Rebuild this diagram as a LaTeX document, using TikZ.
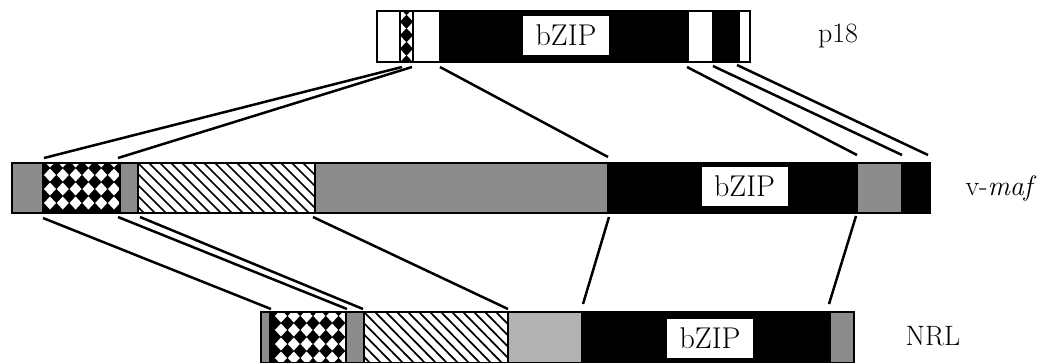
\documentclass[tikz,border=0pt]{standalone}
\usetikzlibrary{calc}
\definecolor{stip}{gray}{0.55}
\definecolor{stiplight}{gray}{0.70}
\tikzset{
  seg/.style={draw=black, line width=1.3pt},
  link/.style={line width=2.5pt, line cap=butt},
  lab/.style={font=\fontsize{28}{30}\selectfont, inner sep=0pt},
  zip/.style={fill=white, draw=none, font=\fontsize{30}{30}\selectfont,
    inner sep=0pt, minimum width=86pt, minimum height=39pt},
}
% plain filled segment: colour, x1, y1, x2, y2
\newcommand\plainseg[5]{\filldraw[seg, fill=#1] (#2,#3) rectangle (#4,#5);}
% segment with diagonal hatching
\newcommand\hatchseg[4]{%
  \begin{scope}
    \clip (#1,#3) rectangle (#2,#4);
    \fill[white] (#1,#3) rectangle (#2,#4);
    \foreach \k in {-5,...,17}
      \draw[line width=1.7pt] ({#1+\k*11},#3) -- ({#1+\k*11+50},#4);
  \end{scope}
  \draw[seg] (#1,#3) rectangle (#2,#4);}
% black segment with white diamonds: x1, x2, y1, y2, first centre x, first centre y, columns, rows
\def\dmdx{12.8}\def\dmdy{14}
\newcommand\dmdseg[8]{%
  \fill[black] (#1,#3) rectangle (#2,#4);
  \begin{scope}
    \clip (#1,#3) rectangle (#2,#4);
    \foreach \i in {0,...,#7}
      \foreach \j in {0,...,#8}
        \fill[white] ({#5+\i*\dmdx},{#6+\j*\dmdy}) +(-6,0) -- +(0,-6.5) -- +(6,0) -- +(0,6.5) -- cycle;
  \end{scope}
  \draw[seg] (#1,#3) rectangle (#2,#4);}
\begin{document}
\begin{tikzpicture}[x=1pt,y=-1pt]
\useasboundingbox (0,0) rectangle (1044,362);

% ---- p18 ----
\plainseg{white}{377}{11}{400}{62}
\def\dmdx{13}\def\dmdy{13.5}
\dmdseg{400}{413}{11}{62}{400}{15}{1}{3}
\plainseg{white}{413}{11}{440}{62}
\plainseg{black}{440}{11}{688}{62}
\plainseg{white}{688}{11}{713}{62}
\plainseg{black}{713}{11}{739}{62}
\plainseg{white}{739}{11}{750}{62}
\node[zip] (zipA) at (566,35.5) {bZIP};
\node[lab] (labA) at (838,36) {p18};

% ---- v-maf ----
\def\dmdx{12.8}\def\dmdy{14}
\plainseg{stip}{12}{163}{43}{213}
\dmdseg{43}{120}{163}{213}{50}{161}{5}{3}
\plainseg{stip}{120}{163}{138}{213}
\hatchseg{138}{315}{163}{213}
\plainseg{stip}{315}{163}{608}{213}
\plainseg{black}{608}{163}{857}{213}
\plainseg{stip}{857}{163}{902}{213}
\plainseg{black}{902}{163}{930}{213}
\node[zip] (zipB) at (744.5,186) {bZIP};
\node[lab] (labB) at (1001,188) {v-\textit{maf}};

% ---- NRL ----
\plainseg{stip}{261}{312}{270}{363}
\dmdseg{270}{346}{312}{363}{281}{316}{5}{3}
\plainseg{stip}{346}{312}{364}{363}
\hatchseg{364}{508}{312}{363}
\plainseg{stiplight}{508}{312}{582}{363}
\plainseg{black}{582}{312}{830}{363}
\plainseg{stip}{830}{312}{854}{363}
\node[zip] (zipC) at (710,338.5) {bZIP};
\node[lab] (labC) at (933,336) {NRL};

% ---- link end points ----
\coordinate (a1) at (402,67);  \coordinate (b1) at (44,158);
\coordinate (a2) at (412,67);  \coordinate (b2) at (118,158);
\coordinate (a3) at (440,67);  \coordinate (b3) at (608,157);
\coordinate (a4) at (687,67);  \coordinate (b4) at (857,155);
\coordinate (a5) at (713,66);  \coordinate (b5) at (902,155);
\coordinate (a6) at (737,65);  \coordinate (b6) at (928,155);

\coordinate (c1) at (43,218);  \coordinate (d1) at (271,309);
\coordinate (c2) at (118,217); \coordinate (d2) at (347,309);
\coordinate (c3) at (140,217); \coordinate (d3) at (363,309);
\coordinate (c4) at (313,217); \coordinate (d4) at (508,309);
\coordinate (c5) at (609,217); \coordinate (d5) at (583,304);
\coordinate (c6) at (856,216); \coordinate (d6) at (829,304);

\foreach \n in {1,...,6} {
  \draw[link] (a\n) -- (b\n);
  \draw[link] (c\n) -- (d\n);
}
\end{tikzpicture}
\end{document}
